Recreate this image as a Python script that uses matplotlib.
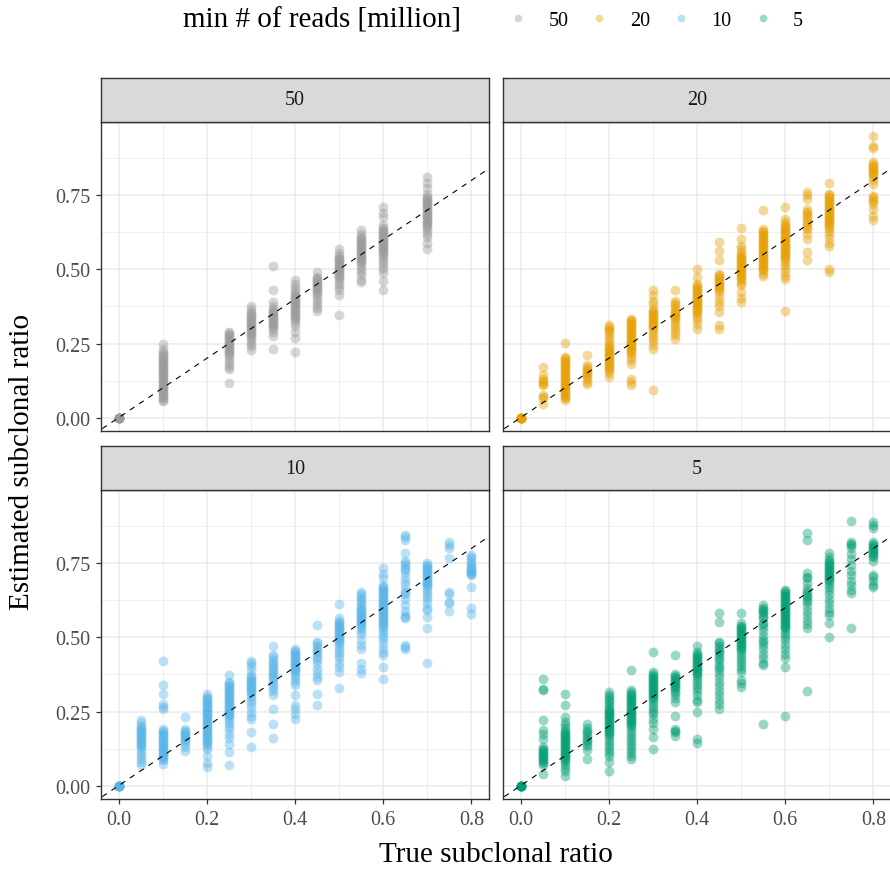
import numpy as np
import matplotlib.pyplot as plt
from matplotlib.lines import Line2D

plt.rcParams['font.family'] = ['Liberation Serif', 'DejaVu Serif']

# ------------------------------------------------------------------
# data: true ratio columns and estimated ratios

groups = ['50', '20', '10', '5']
colors = ['#999999', '#E69F00', '#56B4E9', '#009E73']

true_50 = [0.0, 0.1, 0.25, 0.3, 0.35, 0.4, 0.45, 0.5, 0.55, 0.6, 0.7]
est_50 = [
    [0.0, 0.0, 0.0, 0.0, 0.0, 0.0, 0.0, 0.0],
    [0.25, 0.23, 0.22, 0.215, 0.21, 0.205, 0.20, 0.195, 0.19, 0.185, 0.18, 0.175, 0.17, 0.165,
     0.16, 0.155, 0.15, 0.145, 0.14, 0.135, 0.13, 0.125, 0.12, 0.115, 0.11, 0.105, 0.10, 0.095,
     0.09, 0.085, 0.08, 0.075, 0.07, 0.065, 0.06, 0.055],
    [0.29, 0.285, 0.28, 0.275, 0.27, 0.265, 0.26, 0.255, 0.25, 0.245, 0.24, 0.235, 0.23, 0.225,
     0.22, 0.215, 0.21, 0.20, 0.19, 0.18, 0.17, 0.165, 0.117],
    [0.375, 0.365, 0.355, 0.35, 0.345, 0.34, 0.335, 0.33, 0.325, 0.32, 0.315, 0.31, 0.305, 0.30,
     0.295, 0.29, 0.285, 0.28, 0.275, 0.27, 0.26, 0.25, 0.24, 0.228],
    [0.51, 0.43, 0.39, 0.375, 0.365, 0.36, 0.355, 0.35, 0.345, 0.34, 0.335, 0.33, 0.325, 0.32,
     0.315, 0.31, 0.305, 0.30, 0.29, 0.275, 0.232],
    [0.465, 0.45, 0.44, 0.43, 0.42, 0.415, 0.41, 0.405, 0.40, 0.395, 0.39, 0.385, 0.38, 0.375,
     0.37, 0.365, 0.36, 0.355, 0.35, 0.345, 0.34, 0.335, 0.33, 0.32, 0.31, 0.29, 0.27, 0.22],
    [0.49, 0.475, 0.47, 0.465, 0.46, 0.455, 0.45, 0.445, 0.44, 0.435, 0.43, 0.425, 0.42, 0.41,
     0.40, 0.39, 0.38, 0.37, 0.36],
    [0.57, 0.555, 0.545, 0.54, 0.535, 0.53, 0.525, 0.52, 0.515, 0.51, 0.505, 0.50, 0.495, 0.49,
     0.485, 0.48, 0.475, 0.47, 0.46, 0.45, 0.44, 0.43, 0.415, 0.347],
    [0.633, 0.62, 0.61, 0.605, 0.60, 0.595, 0.59, 0.585, 0.58, 0.575, 0.57, 0.565, 0.56, 0.555,
     0.55, 0.545, 0.54, 0.535, 0.53, 0.525, 0.52, 0.51, 0.50, 0.49, 0.48, 0.465, 0.457],
    [0.71, 0.69, 0.675, 0.65, 0.64, 0.635, 0.63, 0.625, 0.62, 0.615, 0.61, 0.605, 0.60, 0.595,
     0.59, 0.585, 0.58, 0.575, 0.57, 0.565, 0.56, 0.555, 0.55, 0.54, 0.53, 0.52, 0.51, 0.50,
     0.487, 0.46, 0.43],
    [0.81, 0.79, 0.775, 0.755, 0.745, 0.74, 0.735, 0.73, 0.725, 0.72, 0.715, 0.71, 0.705, 0.70,
     0.695, 0.69, 0.685, 0.68, 0.675, 0.67, 0.665, 0.66, 0.655, 0.65, 0.645, 0.64, 0.63, 0.62,
     0.61, 0.59, 0.57],
]

true_20 = [0.0, 0.05, 0.1, 0.15, 0.2, 0.25, 0.3, 0.35, 0.4, 0.45, 0.5, 0.55, 0.6, 0.65, 0.7, 0.8]
est_20 = [
    [0.0, 0.0, 0.0, 0.0, 0.0, 0.0, 0.0, 0.0],
    [0.171, 0.143, 0.13, 0.125, 0.12, 0.115, 0.11, 0.075, 0.07, 0.065, 0.047],
    [0.253, 0.204, 0.2, 0.195, 0.19, 0.185, 0.18, 0.175, 0.17, 0.165, 0.16, 0.155, 0.15, 0.145,
     0.14, 0.135, 0.13, 0.125, 0.12, 0.115, 0.11, 0.105, 0.10, 0.095, 0.09, 0.085, 0.08, 0.075,
     0.07, 0.065, 0.058],
    [0.212, 0.176, 0.17, 0.165, 0.16, 0.155, 0.15, 0.145, 0.14, 0.13, 0.12, 0.115],
    [0.311, 0.305, 0.30, 0.295, 0.29, 0.28, 0.27, 0.26, 0.25, 0.24, 0.235, 0.23, 0.225, 0.22,
     0.215, 0.21, 0.205, 0.20, 0.195, 0.19, 0.185, 0.18, 0.175, 0.17, 0.165, 0.16, 0.15, 0.137],
    [0.333, 0.33, 0.325, 0.32, 0.315, 0.31, 0.305, 0.30, 0.295, 0.29, 0.285, 0.28, 0.275, 0.27,
     0.265, 0.26, 0.255, 0.25, 0.245, 0.24, 0.235, 0.23, 0.225, 0.22, 0.215, 0.205, 0.195, 0.182,
     0.131, 0.12, 0.109],
    [0.432, 0.412, 0.395, 0.384, 0.367, 0.36, 0.355, 0.35, 0.345, 0.34, 0.335, 0.33, 0.325, 0.32,
     0.315, 0.31, 0.305, 0.30, 0.29, 0.28, 0.27, 0.26, 0.245, 0.232, 0.092],
    [0.429, 0.392, 0.385, 0.38, 0.37, 0.36, 0.355, 0.35, 0.345, 0.34, 0.335, 0.33, 0.32, 0.31,
     0.30, 0.29, 0.278, 0.266],
    [0.502, 0.474, 0.451, 0.445, 0.44, 0.435, 0.43, 0.425, 0.42, 0.415, 0.41, 0.405, 0.40, 0.395,
     0.39, 0.385, 0.38, 0.375, 0.37, 0.365, 0.36, 0.355, 0.35, 0.34, 0.33, 0.315, 0.30],
    [0.592, 0.561, 0.53, 0.485, 0.48, 0.475, 0.47, 0.465, 0.46, 0.455, 0.45, 0.445, 0.44, 0.435,
     0.43, 0.42, 0.405, 0.39, 0.375, 0.356, 0.311, 0.30],
    [0.64, 0.603, 0.58, 0.568, 0.558, 0.55, 0.545, 0.54, 0.535, 0.53, 0.525, 0.52, 0.515, 0.51,
     0.505, 0.50, 0.495, 0.49, 0.485, 0.48, 0.475, 0.47, 0.465, 0.455, 0.446, 0.423, 0.405, 0.39],
    [0.70, 0.637, 0.63, 0.625, 0.62, 0.615, 0.61, 0.605, 0.60, 0.595, 0.59, 0.585, 0.58, 0.575,
     0.57, 0.565, 0.56, 0.555, 0.55, 0.545, 0.54, 0.535, 0.53, 0.525, 0.52, 0.515, 0.51, 0.505,
     0.50, 0.495, 0.485, 0.479],
    [0.709, 0.67, 0.659, 0.65, 0.645, 0.64, 0.635, 0.63, 0.625, 0.62, 0.615, 0.61, 0.605, 0.60,
     0.595, 0.59, 0.585, 0.58, 0.575, 0.57, 0.565, 0.56, 0.555, 0.55, 0.545, 0.54, 0.535, 0.525,
     0.515, 0.505, 0.49, 0.478, 0.468, 0.361],
    [0.76, 0.75, 0.738, 0.704, 0.695, 0.69, 0.68, 0.675, 0.665, 0.655, 0.65, 0.64, 0.635, 0.62,
     0.603, 0.56, 0.53],
    [0.79, 0.754, 0.75, 0.745, 0.74, 0.735, 0.73, 0.725, 0.72, 0.715, 0.71, 0.705, 0.70, 0.695,
     0.69, 0.685, 0.68, 0.675, 0.67, 0.665, 0.66, 0.655, 0.65, 0.645, 0.64, 0.63, 0.62, 0.605,
     0.59, 0.58, 0.502, 0.49],
    [0.951, 0.917, 0.91, 0.861, 0.855, 0.85, 0.845, 0.84, 0.835, 0.83, 0.825, 0.82, 0.81, 0.80,
     0.788, 0.749, 0.745, 0.735, 0.73, 0.72, 0.704, 0.681, 0.665],
]

true_10 = [0.0, 0.05, 0.1, 0.15, 0.2, 0.25, 0.3, 0.35, 0.4, 0.45, 0.5, 0.55, 0.6, 0.65, 0.7,
           0.75, 0.8]
est_10 = [
    [0.0, 0.0, 0.0, 0.0, 0.0, 0.0, 0.0, 0.0],
    [0.223, 0.21, 0.2, 0.195, 0.19, 0.185, 0.18, 0.175, 0.17, 0.165, 0.16, 0.155, 0.15, 0.145,
     0.14, 0.135, 0.13, 0.12, 0.11, 0.10, 0.09, 0.08, 0.068],
    [0.42, 0.34, 0.31, 0.276, 0.265, 0.257, 0.192, 0.185, 0.18, 0.175, 0.17, 0.165, 0.16, 0.155,
     0.15, 0.145, 0.14, 0.135, 0.13, 0.125, 0.12, 0.115, 0.11, 0.105, 0.10, 0.095, 0.09, 0.085,
     0.073],
    [0.231, 0.192, 0.185, 0.18, 0.175, 0.17, 0.165, 0.16, 0.155, 0.15, 0.14, 0.13, 0.118],
    [0.31, 0.30, 0.295, 0.29, 0.285, 0.28, 0.275, 0.27, 0.265, 0.26, 0.255, 0.25, 0.245, 0.24,
     0.235, 0.23, 0.225, 0.22, 0.215, 0.21, 0.205, 0.20, 0.195, 0.19, 0.185, 0.18, 0.175, 0.17,
     0.165, 0.16, 0.155, 0.15, 0.145, 0.14, 0.13, 0.124, 0.10, 0.075, 0.062],
    [0.372, 0.35, 0.345, 0.34, 0.335, 0.33, 0.325, 0.32, 0.315, 0.31, 0.305, 0.30, 0.295, 0.29,
     0.285, 0.28, 0.275, 0.27, 0.265, 0.26, 0.255, 0.25, 0.245, 0.24, 0.235, 0.23, 0.22, 0.21,
     0.20, 0.19, 0.175, 0.16, 0.141, 0.113, 0.07],
    [0.42, 0.415, 0.405, 0.39, 0.372, 0.365, 0.361, 0.355, 0.35, 0.345, 0.34, 0.335, 0.33,
     0.325, 0.32, 0.315, 0.31, 0.30, 0.29, 0.28, 0.265, 0.25, 0.235, 0.226, 0.18, 0.13],
    [0.471, 0.44, 0.435, 0.425, 0.415, 0.41, 0.40, 0.395, 0.385, 0.38, 0.37, 0.365, 0.36, 0.35,
     0.34, 0.33, 0.32, 0.305, 0.259, 0.209, 0.16],
    [0.462, 0.455, 0.45, 0.445, 0.44, 0.435, 0.43, 0.425, 0.42, 0.415, 0.41, 0.405, 0.40, 0.395,
     0.39, 0.385, 0.38, 0.37, 0.36, 0.35, 0.338, 0.307, 0.271, 0.26, 0.24, 0.226],
    [0.541, 0.485, 0.48, 0.47, 0.465, 0.455, 0.45, 0.44, 0.43, 0.425, 0.41, 0.395, 0.38, 0.365,
     0.355, 0.31, 0.271],
    [0.611, 0.564, 0.555, 0.55, 0.545, 0.54, 0.535, 0.53, 0.525, 0.52, 0.515, 0.51, 0.505, 0.50,
     0.495, 0.49, 0.485, 0.48, 0.47, 0.46, 0.45, 0.44, 0.43, 0.415, 0.40, 0.383, 0.329],
    [0.654, 0.645, 0.64, 0.63, 0.625, 0.615, 0.61, 0.60, 0.595, 0.59, 0.585, 0.58, 0.575, 0.57,
     0.565, 0.56, 0.555, 0.55, 0.545, 0.54, 0.53, 0.52, 0.51, 0.49, 0.475, 0.462, 0.412, 0.395,
     0.381],
    [0.733, 0.715, 0.699, 0.677, 0.67, 0.665, 0.66, 0.655, 0.65, 0.645, 0.64, 0.635, 0.63, 0.625,
     0.62, 0.615, 0.61, 0.605, 0.60, 0.595, 0.59, 0.585, 0.58, 0.575, 0.57, 0.565, 0.56, 0.555,
     0.55, 0.545, 0.54, 0.535, 0.525, 0.515, 0.505, 0.495, 0.48, 0.465, 0.45, 0.44, 0.40, 0.361],
    [0.846, 0.838, 0.829, 0.784, 0.756, 0.75, 0.745, 0.735, 0.73, 0.72, 0.705, 0.69, 0.675,
     0.66, 0.65, 0.645, 0.63, 0.61, 0.59, 0.575, 0.57, 0.564, 0.474, 0.466, 0.462],
    [0.75, 0.745, 0.74, 0.735, 0.73, 0.725, 0.72, 0.715, 0.71, 0.705, 0.70, 0.695, 0.69, 0.685,
     0.68, 0.675, 0.67, 0.66, 0.65, 0.64, 0.63, 0.615, 0.60, 0.592, 0.57, 0.532, 0.412],
    [0.823, 0.81, 0.80, 0.767, 0.652, 0.645, 0.62, 0.615, 0.59],
    [0.778, 0.77, 0.765, 0.755, 0.745, 0.74, 0.735, 0.73, 0.725, 0.722, 0.718, 0.715, 0.71,
     0.671, 0.60, 0.58],
]

true_5 = [0.0, 0.05, 0.1, 0.15, 0.2, 0.25, 0.3, 0.35, 0.4, 0.45, 0.5, 0.55, 0.6, 0.65, 0.7,
          0.75, 0.8]
est_5 = [
    [0.0, 0.0, 0.0, 0.0, 0.0, 0.0, 0.0, 0.0],
    [0.361, 0.327, 0.321, 0.22, 0.186, 0.175, 0.158, 0.13, 0.125, 0.12, 0.115, 0.11, 0.105,
     0.10, 0.095, 0.09, 0.085, 0.08, 0.075, 0.068, 0.04],
    [0.31, 0.271, 0.231, 0.215, 0.205, 0.195, 0.185, 0.18, 0.175, 0.17, 0.165, 0.16, 0.155,
     0.15, 0.145, 0.14, 0.135, 0.13, 0.125, 0.12, 0.115, 0.11, 0.105, 0.10, 0.095, 0.09, 0.085,
     0.08, 0.07, 0.06, 0.05, 0.034],
    [0.209, 0.195, 0.185, 0.18, 0.17, 0.165, 0.155, 0.15, 0.14, 0.135, 0.12, 0.09],
    [0.316, 0.305, 0.30, 0.29, 0.285, 0.275, 0.27, 0.26, 0.255, 0.25, 0.245, 0.24, 0.235, 0.23,
     0.225, 0.22, 0.215, 0.21, 0.205, 0.20, 0.195, 0.19, 0.185, 0.18, 0.175, 0.17, 0.16, 0.15,
     0.14, 0.13, 0.12, 0.11, 0.10, 0.079, 0.051],
    [0.389, 0.321, 0.315, 0.31, 0.305, 0.30, 0.295, 0.29, 0.285, 0.28, 0.275, 0.27, 0.265, 0.26,
     0.255, 0.25, 0.245, 0.24, 0.235, 0.23, 0.225, 0.22, 0.215, 0.21, 0.205, 0.20, 0.19, 0.18,
     0.17, 0.16, 0.15, 0.14, 0.13, 0.12, 0.11, 0.10, 0.09],
    [0.451, 0.383, 0.375, 0.37, 0.365, 0.36, 0.355, 0.35, 0.345, 0.34, 0.335, 0.33, 0.325, 0.32,
     0.315, 0.31, 0.305, 0.30, 0.295, 0.29, 0.28, 0.27, 0.26, 0.25, 0.24, 0.225, 0.21, 0.192,
     0.164, 0.124],
    [0.44, 0.378, 0.37, 0.365, 0.36, 0.355, 0.35, 0.345, 0.34, 0.335, 0.33, 0.325, 0.315, 0.31,
     0.295, 0.282, 0.235, 0.192, 0.185, 0.18, 0.167],
    [0.471, 0.451, 0.445, 0.44, 0.435, 0.43, 0.425, 0.42, 0.415, 0.41, 0.405, 0.40, 0.395, 0.39,
     0.385, 0.38, 0.375, 0.37, 0.36, 0.35, 0.34, 0.33, 0.32, 0.305, 0.29, 0.282, 0.25, 0.158,
     0.144],
    [0.581, 0.553, 0.485, 0.48, 0.47, 0.465, 0.455, 0.45, 0.44, 0.43, 0.425, 0.41, 0.40, 0.395,
     0.38, 0.365, 0.35, 0.335, 0.32, 0.305, 0.29, 0.275, 0.259],
    [0.581, 0.547, 0.54, 0.535, 0.53, 0.525, 0.52, 0.515, 0.51, 0.505, 0.50, 0.495, 0.49, 0.485,
     0.48, 0.475, 0.47, 0.465, 0.46, 0.455, 0.445, 0.435, 0.425, 0.415, 0.405, 0.395, 0.383,
     0.355, 0.345, 0.333],
    [0.609, 0.60, 0.595, 0.59, 0.585, 0.58, 0.57, 0.565, 0.55, 0.545, 0.535, 0.52, 0.505, 0.49,
     0.485, 0.475, 0.46, 0.445, 0.43, 0.415, 0.406, 0.209],
    [0.66, 0.655, 0.65, 0.645, 0.64, 0.635, 0.63, 0.625, 0.62, 0.615, 0.61, 0.605, 0.60, 0.595,
     0.59, 0.585, 0.58, 0.575, 0.57, 0.565, 0.56, 0.555, 0.55, 0.545, 0.54, 0.535, 0.53, 0.52,
     0.51, 0.50, 0.49, 0.475, 0.46, 0.445, 0.429, 0.40, 0.235],
    [0.851, 0.829, 0.716, 0.705, 0.70, 0.685, 0.665, 0.655, 0.65, 0.64, 0.635, 0.625, 0.62,
     0.605, 0.59, 0.575, 0.56, 0.545, 0.53, 0.319],
    [0.784, 0.77, 0.76, 0.755, 0.75, 0.745, 0.74, 0.735, 0.73, 0.725, 0.72, 0.715, 0.71, 0.705,
     0.70, 0.695, 0.69, 0.68, 0.67, 0.66, 0.645, 0.63, 0.615, 0.60, 0.585, 0.575, 0.55, 0.502],
    [0.891, 0.823, 0.815, 0.81, 0.80, 0.78, 0.765, 0.745, 0.725, 0.71, 0.69, 0.675, 0.66, 0.648,
     0.53],
    [0.889, 0.878, 0.868, 0.823, 0.815, 0.81, 0.805, 0.80, 0.795, 0.79, 0.785, 0.78, 0.775,
     0.77, 0.756, 0.71, 0.705, 0.69, 0.675, 0.671],
]

panels = [(true_50, est_50), (true_20, est_20), (true_10, est_10), (true_5, est_5)]

# ------------------------------------------------------------------
# layout (figure is 890 x 870 px, right column runs into the edge)
W, H = 890.0, 870.0
col_left = [101, 503]
row_top = [123, 491]
pw, ph = 388, 309
strip_h = 44

fig = plt.figure(figsize=(8.9, 8.7), dpi=100)

for k, (xs_true, ys_est) in enumerate(panels):
    r, c = divmod(k, 2)
    x0 = col_left[c] / W
    y0 = 1 - (row_top[r] + ph) / H
    ax = fig.add_axes([x0, y0, pw / W, ph / H])
    sax = fig.add_axes([x0, 1 - row_top[r] / H, pw / W, strip_h / H])

    # strip
    sax.set_facecolor('#d9d9d9')
    sax.set_xticks([])
    sax.set_yticks([])
    for sp in sax.spines.values():
        sp.set_color('#333333')
        sp.set_linewidth(1.0)
    sax.text(0.5, 0.5, groups[k], ha='center', va='center', fontsize=14.5, color='#1a1a1a',
             transform=sax.transAxes)

    # points
    px, py = [], []
    for xv, col in zip(xs_true, ys_est):
        px += [xv] * len(col)
        py += col
    ax.scatter(px, py, s=50, color=colors[k], alpha=0.4, linewidths=0, zorder=3)
    ax.plot([-0.1, 1.0], [-0.1, 1.0], color='black', lw=0.8, ls=(0, (5, 5)), zorder=4)

    ax.set_xlim(-0.04, 0.84)
    ax.set_ylim(-0.045, 0.997)
    ax.set_xticks([0.0, 0.2, 0.4, 0.6, 0.8])
    ax.set_xticks([0.1, 0.3, 0.5, 0.7], minor=True)
    ax.set_yticks([0.0, 0.25, 0.5, 0.75])
    ax.set_yticks([0.125, 0.375, 0.625, 0.875], minor=True)
    ax.grid(which='major', color='#ebebeb', lw=1.1, zorder=0)
    ax.grid(which='minor', color='#ebebeb', lw=0.55, zorder=0)
    ax.set_axisbelow(True)
    ax.tick_params(which='minor', length=0)
    ax.tick_params(which='major', length=3.6, width=0.9, color='#333333', labelcolor='#4d4d4d',
                   labelsize=14.5, pad=4)
    for sp in ax.spines.values():
        sp.set_color('#333333')
        sp.set_linewidth(1.0)
    if r == 1:
        ax.set_xticklabels(['0.0', '0.2', '0.4', '0.6', '0.8'])
    else:
        ax.tick_params(axis='x', length=0, labelbottom=False)
    if c == 0:
        ax.set_yticklabels(['0.00', '0.25', '0.50', '0.75'])
    else:
        ax.tick_params(axis='y', length=0, labelleft=False)

# axis titles
fig.text(495.5 / W, 1 - 855 / H, 'True subclonal ratio', ha='center', va='center', fontsize=21)
fig.text(22 / W, 1 - 462 / H, 'Estimated subclonal ratio', ha='center', va='center',
         fontsize=21, rotation=90)

# legend on top
fig.text(183 / W, 1 - 21 / H, 'min # of reads [million]', ha='left', va='center', fontsize=21)
handles = [Line2D([], [], ls='none', marker='o', ms=5.5, mew=0, color=cl, alpha=0.4)
           for cl in colors]
fig.legend(handles, groups, loc='center left', bbox_to_anchor=(508 / W, 1 - 21 / H), ncol=4,
           frameon=False, fontsize=14.5, handlelength=1.0, handletextpad=1.0, columnspacing=1.05,
           borderpad=0, borderaxespad=0)

fig.savefig('out.png', dpi=100)
